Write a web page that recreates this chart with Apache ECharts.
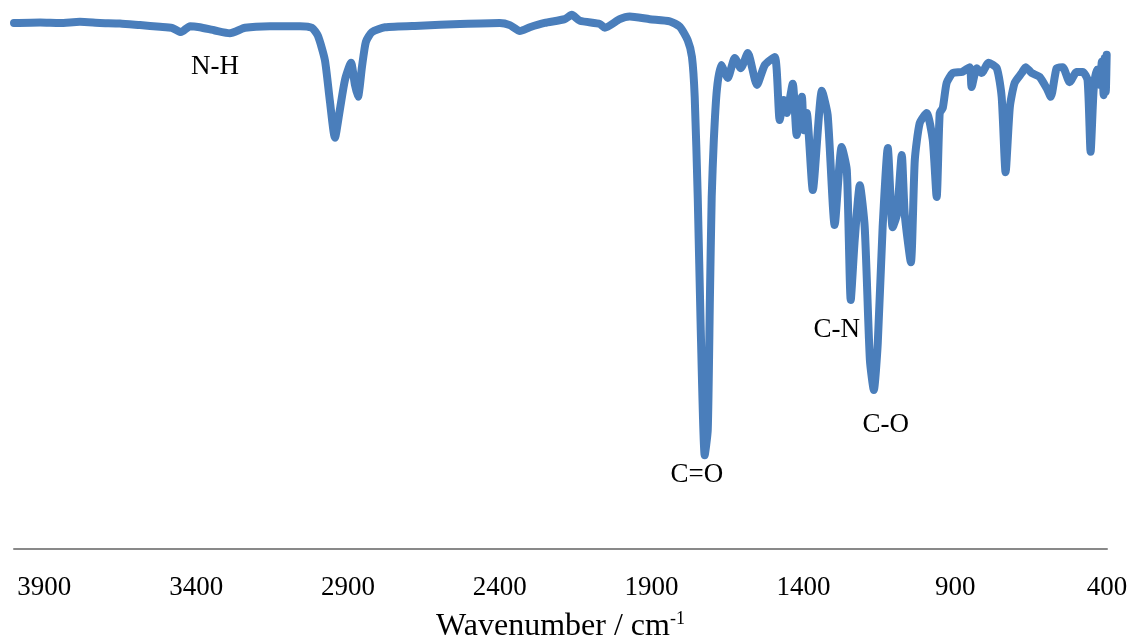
<!DOCTYPE html>
<html>
<head>
<meta charset="utf-8">
<script src="https://cdn.jsdelivr.net/npm/echarts@6/dist/echarts.min.js"></script>
<style>
  html, body { margin: 0; padding: 0; background: #ffffff; }
  #chart { width: 1133px; height: 644px; }
</style>
</head>
<body>
<div id="chart"></div>
<script>
// Wavenumbers (cm-1) and transmittance-like values
const wavenumbers = [4000,3914,3849,3783,3717,3651,3585,3519,3480,3450,3420,3388,3338,3289,3239,3157,3058,3019,2999,2976,2960,2943,2927,2910,2890,2877,2867,2854,2841,2821,2778,2663,2531,2400,2367,2334,2301,2252,2186,2163,2136,2070,2054,2005,1972,1906,1840,1807,1781,1767,1758,1748,1738,1725,1715,1708,1702,1695,1685,1671,1649,1626,1606,1583,1553,1527,1494,1478,1465,1455,1435,1422,1405,1399,1389,1369,1339,1320,1297,1274,1257,1244,1231,1214,1198,1181,1168,1155,1139,1122,1106,1092,1076,1066,1046,1033,1017,994,974,961,951,941,928,908,878,852,846,829,813,790,763,747,734,720,704,681,668,648,622,599,585,566,546,523,500,480,464,454,444,434,424,417,411,408,404,401];
const transmittance = [97.6,97.7,97.6,97.8,97.6,97.5,97.2,96.9,96.7,95.9,97.0,96.8,96.2,95.7,96.7,97.0,97.0,96.7,95.2,90.7,83.3,76.3,81.4,87.0,90.2,86.1,83.9,89.4,94.1,95.9,96.8,97.1,97.4,97.6,97.2,96.1,96.8,97.6,98.3,99.1,98.0,97.4,96.7,98.3,98.8,98.3,97.9,96.9,94.4,91.3,83.9,65.3,40.6,17.4,22.1,46.2,65.3,75.9,85.2,89.8,87.4,91.1,89.2,92.0,86.1,89.8,91.3,79.6,83.3,80.9,86.3,76.8,83.9,77.7,80.9,66.6,85.0,80.5,60.1,74.6,70.3,46.2,57.3,67.5,59.7,35.1,29.5,38.2,59.7,74.4,59.7,62.0,73.1,62.0,53.2,72.2,79.0,80.9,75.9,65.3,80.9,81.8,86.5,88.3,88.5,89.4,85.7,89.2,88.3,90.2,89.2,83.9,69.9,82.0,86.5,88.3,89.4,88.3,87.6,85.5,83.9,89.2,89.4,86.6,88.5,88.5,87.0,73.7,85.2,88.9,86.1,90.4,84.2,91.1,84.8,91.7];

// Band annotations
const bandLabels = ['N-H', 'C=O', 'C-N', 'C-O'];
const bandX = [3338, 1751, 1290, 1129];
const bandY = [89.4, 13.8, 40.7, 23.0];

// Axis
const axisMin = 400;
const axisMax = 4000;
const tickStep = 500;

const spectrum = wavenumbers.map((w, i) => [w, transmittance[i]]);
const bands = bandX.map((x, i) => ({ value: [x, bandY[i]], name: bandLabels[i] }));

const chart = echarts.init(document.getElementById('chart'), null, { renderer: 'canvas' });
chart.setOption({
  animation: false,
  backgroundColor: '#ffffff',
  grid: { left: 14, right: 26, top: 10, bottom: 95, containLabel: false, outerBoundsMode: 'none' },
  xAxis: {
    type: 'value',
    min: axisMin,
    max: axisMax,
    interval: tickStep,
    inverse: true,
    splitLine: { show: false },
    axisTick: { show: false },
    axisLine: { show: true, lineStyle: { color: '#898989', width: 2 } },
    axisLabel: {
      margin: 25,
      color: '#000000',
      fontFamily: 'Liberation Serif',
      fontSize: 27,
      formatter: v => (v === axisMax ? '' : String(v))
    },
    name: '{a|Wavenumber / cm}{b|-1}',
    nameLocation: 'middle',
    nameGap: 61,
    nameTextStyle: {
      rich: {
        a: { fontFamily: 'Liberation Serif', fontSize: 32, color: '#000000', lineHeight: 34 },
        b: { fontFamily: 'Liberation Serif', fontSize: 18, color: '#000000', verticalAlign: 'top', lineHeight: 34 }
      }
    }
  },
  yAxis: {
    type: 'value',
    min: 0,
    max: 100,
    show: false
  },
  series: [
    {
      type: 'line',
      data: spectrum,
      showSymbol: false,
      symbol: 'none',
      smooth: 0.2,
      lineStyle: { color: '#4a7ebb', width: 8, cap: 'round', join: 'round' },
      z: 2
    },
    {
      type: 'scatter',
      data: bands,
      symbolSize: 0,
      silent: true,
      itemStyle: { color: '#000000' },
      label: {
        show: true,
        position: 'inside',
        formatter: p => p.name,
        fontFamily: 'Liberation Serif',
        fontSize: 27,
        color: '#000000',
        textBorderWidth: 0,
        opacity: 1
      },
      z: 3
    }
  ]
});
</script>
</body>
</html>
